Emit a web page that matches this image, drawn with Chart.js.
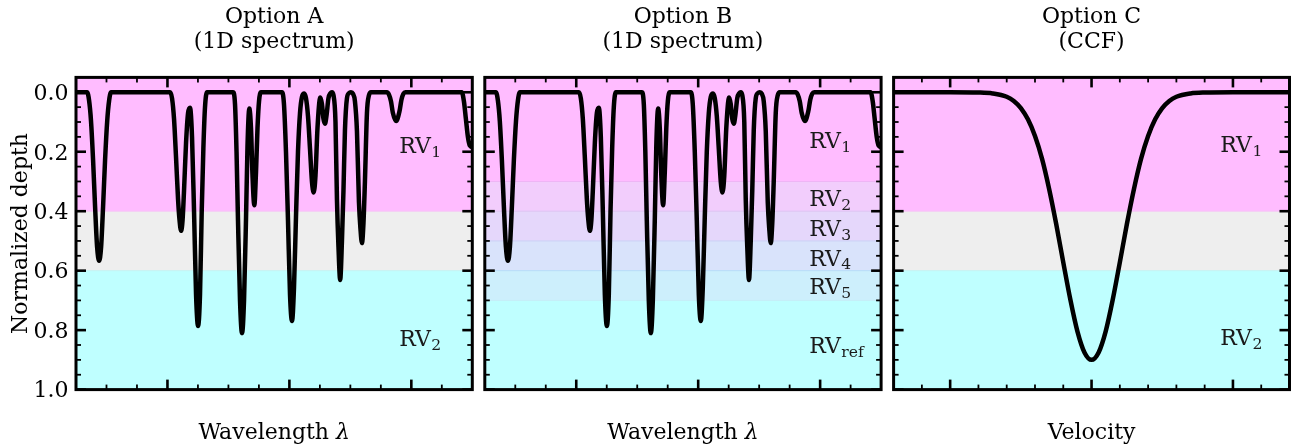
<!DOCTYPE html>
<html>
<head>
<meta charset="utf-8">
<script src="https://cdn.jsdelivr.net/npm/chart.js@4.4.1/dist/chart.umd.min.js"></script>
<style>
  html, body { margin: 0; padding: 0; background: #fff; }
  #wrap { position: relative; width: 1296px; height: 448px; }
  #wrap canvas { position: absolute; left: 0; top: 0; width: 1296px; height: 448px; }
</style>
</head>
<body>
<div id="wrap">
  <canvas id="chartA" width="1296" height="448"></canvas>
  <canvas id="chartB" width="1296" height="448"></canvas>
  <canvas id="chartC" width="1296" height="448"></canvas>
</div>
<script>
// spectrum (same spectrum in option A and B)
const wavelength = [
  5000.00,
  5001.82, 5002.15, 5002.46, 5002.80, 5003.13, 5003.46, 5003.79, 5004.12, 5004.44, 5004.77, 5005.12, 5005.43, 5005.75,
  5015.43, 5015.75, 5016.08, 5016.41, 5016.74, 5016.98, 5017.23, 5017.48, 5017.72, 5018.05, 5018.38, 5018.70,
  5019.03, 5019.36, 5019.69, 5020.02, 5020.34, 5020.62, 5020.89, 5021.16, 5021.49,
  5025.75, 5026.08, 5026.33, 5026.57, 5026.90, 5027.23, 5027.56, 5027.89, 5028.13, 5028.43,
  5028.70, 5028.95, 5029.25, 5029.52, 5029.77, 5030.02, 5030.34,
  5033.79, 5034.11, 5034.44, 5034.77, 5035.10, 5035.43, 5035.75, 5036.08, 5036.41, 5036.74, 5037.07, 5037.44,
  5037.72, 5038.05, 5038.38, 5038.70, 5038.98, 5039.28, 5039.61, 5040.07,
  5040.34, 5040.59, 5040.84, 5041.08, 5041.41, 5041.74, 5041.98,
  5042.23, 5042.56, 5042.80, 5043.05, 5043.33, 5043.62, 5043.87, 5044.11, 5044.44, 5044.77, 5045.10,
  5045.43, 5045.75, 5046.08, 5046.41, 5046.66, 5046.90, 5047.15, 5047.39, 5047.72, 5048.05, 5048.38,
  5051.00, 5051.33, 5051.66, 5051.98, 5052.51, 5053.05, 5053.38, 5053.70, 5054.03,
  5063.28, 5063.62, 5063.95, 5064.28, 5064.61, 5065.00
];
const specDepth = [
  0,
  0, 0.028, 0.096, 0.227, 0.385, 0.520, 0.567, 0.520, 0.385, 0.227, 0.096, 0.028, 0,
  0, 0.02, 0.09, 0.22, 0.36, 0.43, 0.466, 0.43, 0.33, 0.17, 0.07, 0.052,
  0.15, 0.40, 0.68, 0.786, 0.68, 0.40, 0.19, 0.05, 0,
  0, 0.04, 0.20, 0.43, 0.70, 0.81, 0.70, 0.42, 0.18, 0.055,
  0.12, 0.28, 0.38, 0.27, 0.12, 0.03, 0,
  0, 0.04, 0.20, 0.43, 0.68, 0.769, 0.66, 0.42, 0.20, 0.07, 0.015, 0.004,
  0.02, 0.08, 0.19, 0.30, 0.337, 0.28, 0.12, 0.018,
  0.04, 0.09, 0.106, 0.08, 0.02, 0.003, 0,
  0.01, 0.10, 0.36, 0.52, 0.631, 0.50, 0.33, 0.13, 0.02, 0.003, 0,
  0.005, 0.03, 0.13, 0.37, 0.46, 0.507, 0.44, 0.30, 0.07, 0.01, 0,
  0, 0.008, 0.03, 0.07, 0.097, 0.065, 0.025, 0.005, 0,
  0, 0.03, 0.09, 0.15, 0.18, 0.185
];

// cross-correlation function (option C)
const velocity = [-14, -10, -8, -7, -6, -5.5, -5, -4.5, -4, -3.5, -3, -2.5, -2, -1.5, -1, -0.5, 0,
                  0.5, 1, 1.5, 2, 2.5, 3, 3.5, 4, 4.5, 5, 5.5, 6, 7, 8, 10, 14];
const ccfDepth = [0, 0, 0.001, 0.004, 0.015, 0.029, 0.053, 0.091, 0.147, 0.224, 0.325, 0.443, 0.572, 0.697, 0.804, 0.875, 0.9,
                  0.875, 0.804, 0.697, 0.572, 0.443, 0.325, 0.224, 0.147, 0.091, 0.053, 0.029, 0.015, 0.004, 0.001, 0, 0];

// ticks
const depthMajor = [0, 0.2, 0.4, 0.6, 0.8, 1.0];
const depthTickLabels = ['0.0', '0.2', '0.4', '0.6', '0.8', '1.0'];
const depthMinor = [0.05, 0.1, 0.15, 0.25, 0.3, 0.35, 0.45, 0.5, 0.55, 0.65, 0.7, 0.75, 0.85, 0.9, 0.95];
const waveMajor = [5015, 5035, 5055];
const waveMinor = [5005, 5010, 5020, 5025, 5030, 5040, 5045, 5050, 5060];
const velMajor = [-10, 0, 10];
const velMinor = [-12, -8, -6, -4, -2, 2, 4, 6, 8, 12];

// shaded RV zones (depth edges) and their labels
const bandEdgesAC = [-0.05, 0.4, 0.6, 1.0];
const bandEdgesB = [-0.05, 0.3, 0.4, 0.5, 0.6, 0.7, 1.0];
const rvNamesAC = ['1', '2'];
const rvNamesB = ['1', '2', '3', '4', '5', 'ref'];

const titleLines = [['Option A', '(1D spectrum)'], ['Option B', '(1D spectrum)'], ['Option C', '(CCF)']];
const xTitles = ['Wavelength ', 'Wavelength ', 'Velocity'];
const yTitle = 'Normalized depth';

// ---- layout / style ----
const W = 1296, H = 448;
const TOP = 77.4, BOTTOM = 389.6;
const FONT = '"DejaVu Serif", "Liberation Serif", serif';
const FS = 22, SUB = 15.6;
const colorsAC = ['#ffbcff', '#eeeeee', '#bfffff'];
const colorsB = ['#ffbcff', '#f2cdfc', '#e5d7fb', '#d9e3fb', '#cdeffc', '#bfffff'];
const edgeColorsAC = ['#f6c4f6', '#c4f2f2'];
const edgeColorsB = ['#efb4f6', '#dcc2f4', '#cbd0f6', '#b6dcf8', '#c4eef8'];

function toPoints(xs, ys) {
  return xs.map((x, i) => ({ x: x, y: ys[i] }));
}

function rvLabel(ctx, x, y, sub) {
  ctx.font = FS + 'px ' + FONT;
  ctx.textAlign = 'left';
  ctx.textBaseline = 'alphabetic';
  ctx.fillText('RV', x, y);
  const w = ctx.measureText('RV').width;
  ctx.font = SUB + 'px ' + FONT;
  ctx.fillText(sub, x + w + 0.5, y + 3.8);
}

function decor(cfg) {
  return {
    id: 'decor_' + cfg.id,
    beforeDatasetsDraw(chart) {
      const ctx = chart.ctx, ca = chart.chartArea, ys = chart.scales.y;
      ctx.save();
      for (let i = 0; i < cfg.bandColors.length; i++) {
        const y0 = ys.getPixelForValue(cfg.bandEdges[i]);
        const y1 = ys.getPixelForValue(cfg.bandEdges[i + 1]);
        ctx.fillStyle = cfg.bandColors[i];
        ctx.fillRect(ca.left, y0, ca.width, y1 - y0);
      }
      ctx.lineWidth = 1;
      for (let i = 1; i < cfg.bandEdges.length - 1; i++) {
        const y = ys.getPixelForValue(cfg.bandEdges[i]);
        ctx.strokeStyle = cfg.edgeColors[i - 1];
        ctx.beginPath();
        ctx.moveTo(ca.left, y);
        ctx.lineTo(ca.right, y);
        ctx.stroke();
      }
      ctx.restore();
    },
    afterDatasetsDraw(chart) {
      const ctx = chart.ctx, ca = chart.chartArea;
      const xs = chart.scales.x, ys = chart.scales.y;
      ctx.save();
      ctx.strokeStyle = '#000';
      ctx.lineCap = 'butt';
      const seg = (x1, y1, x2, y2, w) => {
        ctx.lineWidth = w;
        ctx.beginPath();
        ctx.moveTo(x1, y1);
        ctx.lineTo(x2, y2);
        ctx.stroke();
      };
      const MAJ = 10, MIN = 5;
      cfg.xMajor.forEach(v => { const p = xs.getPixelForValue(v); seg(p, ca.bottom, p, ca.bottom - MAJ, 2.6); seg(p, ca.top, p, ca.top + MAJ, 2.6); });
      cfg.xMinor.forEach(v => { const p = xs.getPixelForValue(v); seg(p, ca.bottom, p, ca.bottom - MIN, 1.8); seg(p, ca.top, p, ca.top + MIN, 1.8); });
      depthMajor.forEach(v => { const p = ys.getPixelForValue(v); seg(ca.left, p, ca.left + MAJ, p, 2.6); seg(ca.right, p, ca.right - MAJ, p, 2.6); });
      depthMinor.forEach(v => { const p = ys.getPixelForValue(v); seg(ca.left, p, ca.left + MIN, p, 1.8); seg(ca.right, p, ca.right - MIN, p, 1.8); });
      ctx.lineWidth = 3;
      ctx.strokeRect(ca.left, ca.top, ca.width, ca.height);

      // RV zone labels
      ctx.fillStyle = '#1a1a1a';
      cfg.rvNames.forEach((n, i) => {
        rvLabel(ctx, xs.getPixelForValue(cfg.rvX), ys.getPixelForValue(cfg.rvY[i]), n);
      });

      // titles and axis labels
      ctx.fillStyle = '#000';
      const cx = (ca.left + ca.right) / 2;
      ctx.font = FS + 'px ' + FONT;
      ctx.textAlign = 'center';
      ctx.textBaseline = 'alphabetic';
      ctx.fillText(cfg.title[0], cx, 22.5);
      ctx.fillText(cfg.title[1], cx, 47.5);
      if (cfg.lambda) {
        const w1 = ctx.measureText(cfg.xTitle).width;
        ctx.font = 'italic ' + FS + 'px ' + FONT;
        const w2 = ctx.measureText('\u03bb').width;
        const x0 = cx - (w1 + w2) / 2;
        ctx.textAlign = 'left';
        ctx.font = FS + 'px ' + FONT;
        ctx.fillText(cfg.xTitle, x0, 439);
        ctx.font = 'italic ' + FS + 'px ' + FONT;
        ctx.fillText('\u03bb', x0 + w1, 439);
      } else {
        ctx.fillText(cfg.xTitle, cx, 439);
      }
      if (cfg.yLabels) {
        ctx.font = FS + 'px ' + FONT;
        ctx.textAlign = 'right';
        depthMajor.forEach((v, i) => {
          ctx.fillText(depthTickLabels[i], ca.left - 7.5, ys.getPixelForValue(v) + 7.8);
        });
        ctx.save();
        ctx.translate(27, (ca.top + ca.bottom) / 2);
        ctx.rotate(-Math.PI / 2);
        ctx.textAlign = 'center';
        ctx.fillText(yTitle, 0, 0);
        ctx.restore();
      }
      ctx.restore();
    }
  };
}

function makePanel(cfg) {
  return new Chart(document.getElementById(cfg.id), {
    type: 'line',
    data: {
      datasets: [{
        data: cfg.points,
        borderColor: '#000',
        borderWidth: 4.5,
        pointRadius: 0,
        fill: false,
        cubicInterpolationMode: 'monotone',
        borderJoinStyle: 'round',
        clip: 0
      }]
    },
    options: {
      responsive: false,
      animation: false,
      devicePixelRatio: 1,
      layout: { padding: { left: cfg.left, right: W - cfg.right, top: TOP, bottom: H - BOTTOM } },
      plugins: { legend: { display: false }, tooltip: { enabled: false } },
      scales: {
        x: { type: 'linear', min: cfg.xMin, max: cfg.xMax, display: false },
        y: { type: 'linear', min: -0.05, max: 1.0, reverse: true, display: false }
      }
    },
    plugins: [decor(cfg)]
  });
}

makePanel({
  id: 'chartA', left: 76, right: 472.3,
  points: toPoints(wavelength, specDepth), xMin: 5000, xMax: 5065,
  xMajor: waveMajor, xMinor: waveMinor,
  bandEdges: bandEdgesAC, bandColors: colorsAC, edgeColors: edgeColorsAC,
  rvNames: rvNamesAC, rvX: 5053.0, rvY: [0.205, 0.853],
  title: titleLines[0], xTitle: xTitles[0], lambda: true, yLabels: true
});
makePanel({
  id: 'chartB', left: 484.8, right: 881.1,
  points: toPoints(wavelength, specDepth), xMin: 5000, xMax: 5065,
  xMajor: waveMajor, xMinor: waveMinor,
  bandEdges: bandEdgesB, bandColors: colorsB, edgeColors: edgeColorsB,
  rvNames: rvNamesB, rvX: 5053.2, rvY: [0.188, 0.382, 0.483, 0.583, 0.678, 0.877],
  title: titleLines[1], xTitle: xTitles[1], lambda: true, yLabels: false
});
makePanel({
  id: 'chartC', left: 893.6, right: 1289.5,
  points: toPoints(velocity, ccfDepth), xMin: -14, xMax: 14,
  xMajor: velMajor, xMinor: velMinor,
  bandEdges: bandEdgesAC, bandColors: colorsAC, edgeColors: edgeColorsAC,
  rvNames: rvNamesAC, rvX: 9.1, rvY: [0.2, 0.849],
  title: titleLines[2], xTitle: xTitles[2], lambda: false, yLabels: false
});
</script>
</body>
</html>
